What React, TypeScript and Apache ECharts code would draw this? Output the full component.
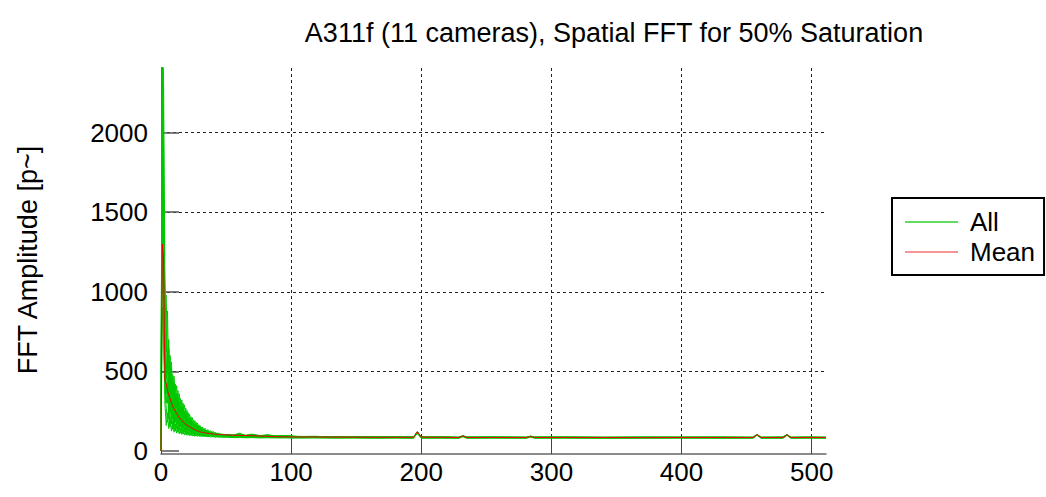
import React, { useEffect, useRef } from "react";
import * as echarts from "echarts";

const titleText = "A311f (11 cameras), Spatial FFT for 50% Saturation";
const yAxisName = "FFT Amplitude [p~]";
const legendNames = ["All", "Mean"];
const xTicks = [0, 100, 200, 300, 400, 500];
const yTicks = [0, 500, 1000, 1500, 2000];

// x positions of the sparse tail points (after the dense head x = 0..49)
const tailX = [52, 56, 60, 65, 70, 76, 82, 88, 95, 105, 118, 132, 148, 165, 180, 194, 197, 200, 215, 229, 232, 235, 255, 281, 284, 287, 310, 340, 370, 400, 430, 455, 458, 461, 478, 481, 484, 498, 511];

const meanHead = [
  0, 1300, 1200, 440, 425, 380, 350, 330, 300, 280,
  265, 250, 236, 222, 210, 200, 191, 183, 175, 168,
  162, 157, 153, 148, 143, 138, 134, 130, 127, 124,
  120, 118, 117, 115, 114, 112, 111, 110, 109, 108,
  107, 106, 105, 105, 104, 104, 103, 103, 102, 102,
];
const meanTail = [100, 99, 98, 97, 96, 94, 92, 90, 89, 88, 88, 87, 87, 86, 86, 86, 120, 87, 86, 85, 95, 85, 85, 85, 92, 85, 85, 85, 84, 85, 85, 85, 103, 85, 85, 102, 85, 85, 85];

const g1Head = [0, 2900, 1450, 900, 760, 520, 640, 430, 560, 360, 470, 320, 410, 290, 360, 250, 320, 230, 290, 210, 255, 190, 230, 175, 210, 165, 190, 155, 175, 145, 160, 135, 150, 128, 142, 122, 135, 118, 128, 112, 124, 108, 118, 104, 114, 100, 110, 98, 106, 96];
const g2Head = [0, 2700, 2300, 1100, 620, 880, 410, 600, 350, 480, 300, 420, 270, 380, 240, 330, 220, 300, 200, 270, 185, 240, 170, 215, 160, 195, 150, 180, 140, 165, 132, 150, 126, 140, 120, 132, 116, 126, 112, 120, 108, 116, 104, 112, 102, 108, 99, 105, 97, 103];
const g3Head = [0, 1200, 1590, 950, 980, 540, 700, 380, 520, 330, 430, 280, 360, 250, 310, 220, 280, 200, 250, 180, 225, 165, 205, 155, 185, 145, 170, 138, 160, 130, 150, 124, 140, 118, 132, 114, 125, 110, 120, 106, 115, 104, 111, 101, 108, 99, 105, 97, 103, 95];
const g4Head = [0, 900, 700, 300, 160, 240, 140, 210, 125, 190, 118, 170, 112, 155, 108, 145, 104, 135, 100, 128, 98, 122, 96, 116, 94, 112, 92, 108, 91, 104, 90, 101, 89, 99, 88, 97, 88, 95, 87, 94, 87, 92, 86, 91, 86, 90, 86, 89, 85, 88];
const g5Head = [0, 2500, 980, 600, 420, 300, 380, 240, 330, 200, 290, 180, 250, 165, 225, 150, 200, 140, 180, 132, 165, 125, 150, 118, 140, 112, 132, 108, 125, 104, 118, 101, 112, 99, 108, 97, 105, 95, 102, 94, 100, 93, 98, 92, 97, 91, 96, 90, 95, 90];
const g6Head = [0, 2600, 1200, 700, 500, 620, 330, 470, 280, 400, 240, 350, 215, 310, 195, 280, 178, 250, 165, 225, 155, 205, 145, 190, 138, 175, 130, 162, 125, 150, 120, 142, 115, 134, 112, 128, 108, 122, 105, 117, 103, 113, 101, 110, 99, 107, 97, 104, 96, 102];
const g7Head = [0, 1800, 1100, 520, 360, 440, 260, 380, 210, 320, 180, 280, 160, 245, 148, 220, 138, 200, 130, 182, 124, 168, 118, 155, 113, 145, 109, 136, 106, 128, 103, 122, 100, 117, 98, 113, 96, 109, 95, 106, 94, 104, 93, 102, 92, 100, 91, 98, 90, 97];
const g8Head = [0, 3000, 1900, 800, 560, 400, 520, 300, 450, 260, 380, 230, 330, 205, 290, 185, 260, 170, 235, 158, 212, 148, 195, 140, 180, 133, 167, 127, 156, 122, 146, 117, 138, 113, 131, 110, 125, 107, 120, 105, 115, 103, 112, 101, 109, 99, 106, 97, 104, 96];
const g9Head = [0, 1500, 850, 400, 270, 180, 290, 150, 250, 135, 220, 125, 195, 118, 175, 112, 160, 107, 148, 103, 138, 100, 130, 98, 123, 96, 117, 94, 112, 93, 108, 92, 105, 91, 102, 90, 100, 89, 98, 88, 96, 88, 95, 87, 94, 87, 93, 86, 92, 86];
const g10Head = [0, 2200, 1350, 650, 450, 560, 300, 450, 250, 370, 220, 320, 200, 285, 182, 255, 168, 232, 156, 212, 146, 195, 138, 180, 131, 168, 125, 157, 120, 148, 116, 140, 112, 133, 109, 127, 106, 122, 104, 117, 102, 113, 100, 110, 98, 107, 97, 105, 95, 103];
const g11Head = [0, 2000, 700, 450, 300, 380, 200, 330, 170, 280, 150, 240, 140, 215, 130, 195, 124, 178, 118, 163, 113, 152, 109, 142, 106, 133, 103, 126, 100, 120, 98, 115, 96, 111, 95, 107, 94, 104, 93, 102, 92, 100, 91, 98, 90, 97, 89, 96, 89, 95];

const g1Tail = [100, 98, 104, 97, 100, 95, 98, 93, 95, 90, 92, 88, 90, 87, 89, 86, 122, 87, 88, 86, 96, 87, 88, 86, 93, 87, 88, 86, 87, 86, 88, 86, 105, 86, 87, 104, 86, 87, 86];
const g2Tail = [104, 100, 112, 99, 106, 97, 102, 95, 97, 92, 90, 89, 88, 88, 86, 87, 118, 86, 86, 85, 94, 86, 85, 86, 92, 85, 86, 85, 85, 86, 85, 85, 102, 85, 86, 101, 85, 86, 85];
const g3Tail = [98, 96, 100, 95, 97, 94, 96, 92, 93, 90, 89, 88, 87, 87, 86, 86, 116, 86, 85, 85, 93, 85, 86, 85, 91, 86, 85, 84, 85, 85, 84, 85, 103, 84, 85, 102, 84, 85, 84];
const g4Tail = [86, 84, 85, 83, 84, 82, 83, 82, 82, 81, 82, 81, 81, 80, 81, 80, 110, 80, 81, 80, 90, 80, 81, 80, 88, 80, 81, 80, 80, 81, 80, 80, 100, 80, 80, 99, 80, 81, 80];
const g5Tail = [92, 90, 94, 89, 91, 88, 90, 87, 88, 86, 87, 85, 86, 85, 85, 84, 114, 85, 84, 84, 92, 84, 85, 84, 90, 84, 84, 84, 85, 84, 84, 84, 101, 84, 84, 100, 84, 84, 84];
const g6Tail = [100, 97, 106, 96, 102, 94, 99, 92, 94, 90, 91, 89, 89, 88, 88, 87, 120, 87, 87, 86, 95, 86, 87, 86, 92, 86, 87, 86, 86, 87, 86, 86, 104, 86, 86, 103, 86, 86, 86];
const g7Tail = [95, 93, 97, 92, 94, 91, 92, 90, 90, 88, 88, 87, 87, 86, 86, 86, 117, 86, 86, 85, 93, 85, 86, 85, 91, 85, 85, 85, 86, 85, 85, 85, 102, 85, 85, 101, 85, 85, 85];
const g8Tail = [102, 99, 108, 97, 103, 95, 100, 94, 96, 91, 92, 89, 90, 88, 88, 87, 121, 87, 88, 86, 95, 87, 87, 86, 93, 87, 87, 86, 87, 86, 87, 86, 104, 86, 87, 103, 86, 87, 86];
const g9Tail = [88, 87, 90, 86, 87, 85, 86, 85, 85, 84, 84, 83, 84, 83, 83, 83, 112, 83, 83, 83, 91, 83, 83, 83, 89, 83, 83, 82, 83, 83, 83, 83, 100, 83, 83, 99, 83, 83, 83];
const g10Tail = [98, 96, 102, 94, 98, 93, 96, 91, 93, 89, 90, 88, 88, 87, 87, 86, 119, 86, 87, 85, 94, 86, 86, 85, 92, 86, 86, 85, 86, 86, 86, 85, 103, 85, 86, 102, 85, 86, 85];
const g11Tail = [91, 90, 93, 88, 90, 87, 89, 86, 87, 85, 86, 84, 85, 84, 85, 84, 113, 84, 84, 83, 92, 84, 84, 84, 90, 84, 84, 83, 84, 84, 84, 84, 101, 84, 84, 100, 84, 84, 84];

const greenHeads = [g1Head, g2Head, g3Head, g4Head, g5Head, g6Head, g7Head, g8Head, g9Head, g10Head, g11Head];
const greenTails = [g1Tail, g2Tail, g3Tail, g4Tail, g5Tail, g6Tail, g7Tail, g8Tail, g9Tail, g10Tail, g11Tail];

function build(head: number[], tail: number[]): number[][] {
  return head.map((v, i) => [i, v]).concat(tailX.map((x, j) => [x, tail[j]]));
}

const FONT = "'Liberation Sans', Arial, Helvetica, sans-serif";
const GREEN = "#00c800";
const RED = "#ee0000";

export default function App() {
  const ref = useRef<HTMLDivElement>(null);
  useEffect(() => {
    if (!ref.current) return;
    const chart = echarts.init(ref.current, null, { renderer: "svg" });
    const greenSeries = greenHeads.map((h, k) => ({
      name: legendNames[0],
      type: "line",
      data: build(h, greenTails[k]),
      symbol: "none",
      showSymbol: false,
      silent: true,
      clip: true,
      lineStyle: { color: GREEN, width: 1 },
      itemStyle: { color: GREEN },
      z: 2,
    }));
    const option: any = {
      animation: false,
      backgroundColor: "#ffffff",
      textStyle: { fontFamily: FONT },
      grid: { left: 161, top: 68, width: 665, height: 383, containLabel: false },
      xAxis: {
        type: "value",
        min: 0,
        max: 511,
        offset: 3,
        axisLine: { show: true, onZero: false, lineStyle: { color: "#666666", width: 1.5 } },
        axisTick: { show: true, inside: true, length: 18, customValues: xTicks, lineStyle: { color: "#444444", width: 1 } },
        axisLabel: { customValues: xTicks, fontSize: 26, color: "#000000", margin: 5, fontFamily: FONT, formatter: (v: number) => String(v) },
        splitLine: { show: true, showMinLine: false, lineStyle: { color: "#222222", type: [3, 3], width: 1 } },
      },
      yAxis: {
        type: "value",
        min: 0,
        max: 2406,
        axisLine: { show: true, onZero: false, lineStyle: { color: "#000000", width: 1 } },
        axisTick: { show: true, inside: true, length: 18, customValues: yTicks, lineStyle: { color: "#555555", width: 1.5 } },
        axisLabel: { customValues: yTicks, fontSize: 26, color: "#000000", margin: 13, fontFamily: FONT, formatter: (v: number) => String(v) },
        splitLine: { show: true, showMinLine: false, lineStyle: { color: "#222222", type: [3, 3], width: 1 } },
      },
      legend: {
        show: true,
        orient: "vertical",
        left: 892,
        top: 198,
        borderColor: "#000000",
        borderWidth: 2,
        padding: [11, 9, 10, 13],
        icon: "rect",
        itemWidth: 53,
        itemHeight: 1.5,
        itemGap: 4,
        textStyle: { fontSize: 26, color: "#000000", fontFamily: FONT, padding: [0, 0, 0, 7] },
        data: [
          { name: legendNames[0], itemStyle: { color: "#2fd02f" } },
          { name: legendNames[1], itemStyle: { color: "#f07070" } },
        ],
      },
      graphic: [
        {
          type: "text",
          x: 614,
          y: 33,
          style: { text: titleText, fontSize: 27, fontFamily: FONT, fill: "#000000", textAlign: "center", textVerticalAlign: "middle" },
        },
        {
          type: "text",
          x: 28,
          y: 260,
          rotation: Math.PI / 2,
          style: { text: yAxisName, fontSize: 27, fontFamily: FONT, fill: "#000000", textAlign: "center", textVerticalAlign: "middle" },
        },
      ],
      series: [
        ...greenSeries,
        {
          name: legendNames[1],
          type: "line",
          data: build(meanHead, meanTail),
          symbol: "none",
          showSymbol: false,
          silent: true,
          clip: true,
          lineStyle: { color: RED, width: 1 },
          itemStyle: { color: RED },
          z: 3,
        },
      ],
    };
    chart.setOption(option);
    return () => chart.dispose();
  }, []);
  return <div ref={ref} style={{ position: "fixed", left: 0, top: 0, width: 1046, height: 497 }} />;
}
